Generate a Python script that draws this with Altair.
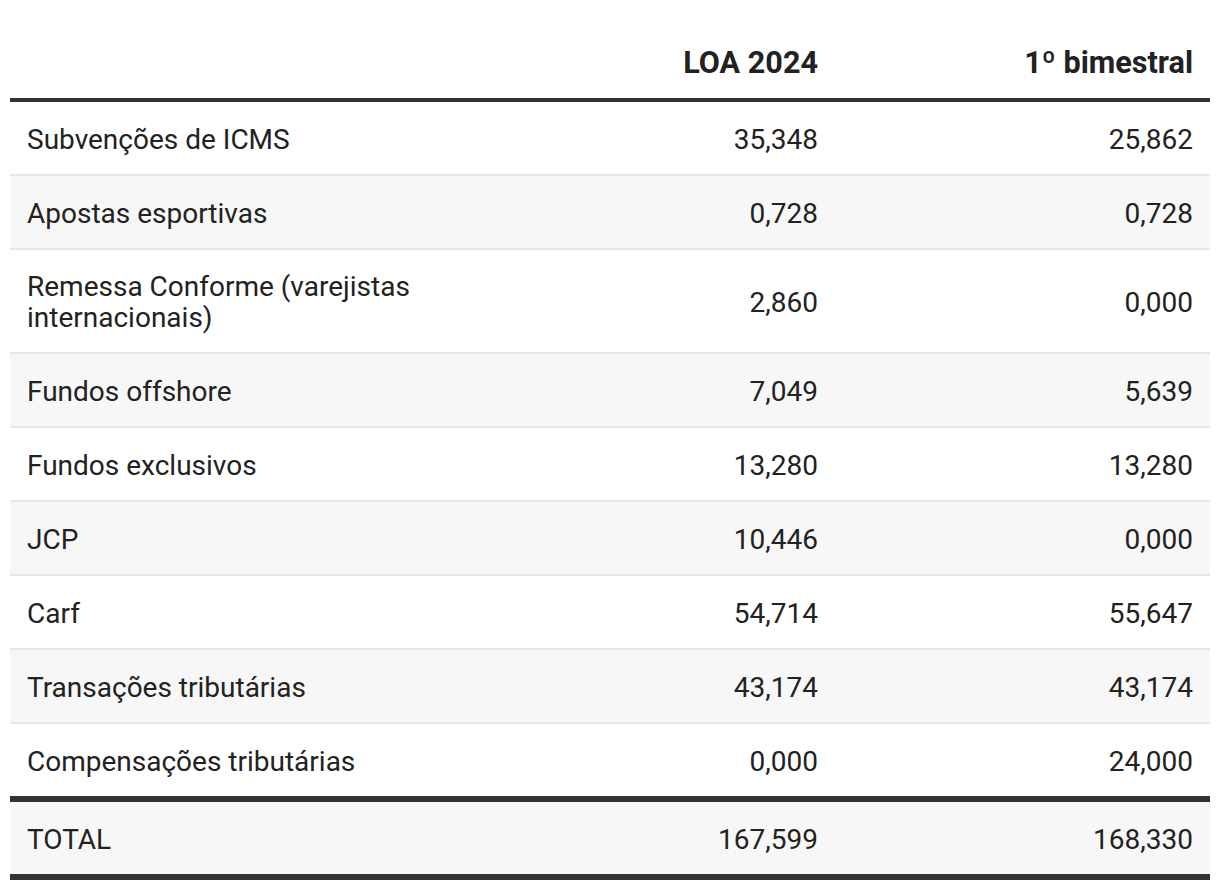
import altair as alt
import pandas as pd

# ---- data ----
categories = [
    "Subvenções de ICMS",
    "Apostas esportivas",
    "Remessa Conforme (varejistas internacionais)",
    "Fundos offshore",
    "Fundos exclusivos",
    "JCP",
    "Carf",
    "Transações tributárias",
    "Compensações tributárias",
]
loa_2024 = [35.348, 0.728, 2.860, 7.049, 13.280, 10.446, 54.714, 43.174, 0.000]
bimestral_1 = [25.862, 0.728, 0.000, 5.639, 13.280, 0.000, 55.647, 43.174, 24.000]
col_headers = ["LOA 2024", "1º bimestral"]
total_label = "TOTAL"
total_loa = 167.599
total_bim = 168.330

# ---- layout (page pixels) ----
PAGE_W, PAGE_H = 1220, 892
MARGIN = 8
LEFT, RIGHT = 10, 1210
LABEL_X = 27
COL_X = [818, 1193]
HEADER_Y = 64
ROW_H = 72
LINE_H = 31
FONT = "Roboto"
FS = 28
HFS = 30.6
TEXT_DY = 2.5
TEXT_COLOR = "#222222"
DARK = "#333333"
SEP = "#e6e6e6"
STRIPE = "#f7f7f7"
WRAP = 30


def wrap(s, n=WRAP):
    words, lines, cur = s.split(" "), [], ""
    for w in words:
        cand = (cur + " " + w).strip()
        if len(cand) > n and cur:
            lines.append(cur)
            cur = w
        else:
            cur = cand
    lines.append(cur)
    return lines


def fmt(v):
    return f"{v:.3f}".replace(".", ",")


rects = []
texts = []
# header line
rects.append(dict(x=LEFT, x2=RIGHT, y=98, y2=102, c=DARK))
y = 102
for i, cat in enumerate(categories):
    lines = wrap(cat)
    h = ROW_H + (LINE_H - 1) * (len(lines) - 1)
    if i % 2 == 1:
        rects.append(dict(x=LEFT, x2=RIGHT, y=y, y2=y + h, c=STRIPE))
    mid = y + h / 2
    texts.append(dict(x=LABEL_X, y=mid - LINE_H * (len(lines) - 1) / 2,
                      t="\n".join(lines), kind="label"))
    texts.append(dict(x=COL_X[0], y=mid, t=fmt(loa_2024[i]), kind="num"))
    texts.append(dict(x=COL_X[1], y=mid, t=fmt(bimestral_1[i]), kind="num"))
    y += h
    if i < len(categories) - 1:
        rects.append(dict(x=LEFT, x2=RIGHT, y=y, y2=y + 2, c=SEP))
        y += 2
# total
rects.append(dict(x=LEFT, x2=RIGHT, y=y, y2=y + 6, c=DARK))
y += 6
rects.append(dict(x=LEFT, x2=RIGHT, y=y, y2=y + ROW_H, c=STRIPE))
mid = y + ROW_H / 2
texts.append(dict(x=LABEL_X, y=mid, t=total_label, kind="label"))
texts.append(dict(x=COL_X[0], y=mid, t=fmt(total_loa), kind="num"))
texts.append(dict(x=COL_X[1], y=mid, t=fmt(total_bim), kind="num"))
y += ROW_H
rects.append(dict(x=LEFT, x2=RIGHT, y=y, y2=y + 6, c=DARK))
# headers
for j, hname in enumerate(col_headers):
    texts.append(dict(x=COL_X[j], y=HEADER_Y, t=hname, kind="header"))

rdf = pd.DataFrame(rects)
tdf = pd.DataFrame(texts)

W = PAGE_W - 2 * MARGIN
H = PAGE_H - 2 * MARGIN
xs = alt.Scale(domain=[MARGIN, MARGIN + W], range=[0, W], nice=False, zero=False)
ys = alt.Scale(domain=[MARGIN, MARGIN + H], range=[0, H], nice=False, zero=False)

X = lambda f: alt.X(f, type="quantitative", scale=xs, axis=None)
Y = lambda f: alt.Y(f, type="quantitative", scale=ys, axis=None)

bg = alt.Chart(rdf).mark_rect().encode(
    x=X("x"), x2="x2", y=Y("y"), y2="y2",
    color=alt.Color("c:N", scale=None),
)

label_layer = alt.Chart(tdf).transform_filter("datum.kind == 'label'").mark_text(
    align="left", baseline="middle", font=FONT, fontSize=FS, color=TEXT_COLOR,
    lineBreak="\n", lineHeight=LINE_H, dy=TEXT_DY,
).encode(x=X("x"), y=Y("y"), text="t:N")

num_layer = alt.Chart(tdf).transform_filter("datum.kind == 'num'").mark_text(
    align="right", baseline="middle", font=FONT, fontSize=FS, color=TEXT_COLOR,
    dy=TEXT_DY,
).encode(x=X("x"), y=Y("y"), text="t:N")

head_layer = alt.Chart(tdf).transform_filter("datum.kind == 'header'").mark_text(
    align="right", baseline="middle", font=FONT, fontSize=HFS, fontWeight="bold",
    color=TEXT_COLOR,
).encode(x=X("x"), y=Y("y"), text="t:N")

chart = alt.layer(bg, label_layer, num_layer, head_layer).properties(
    width=W, height=H, padding=0, autosize=alt.AutoSizeParams(type="none"),
    background="white",
).configure_view(stroke=None)

chart.save("out.html", embed_options={"renderer": "svg", "actions": False})
